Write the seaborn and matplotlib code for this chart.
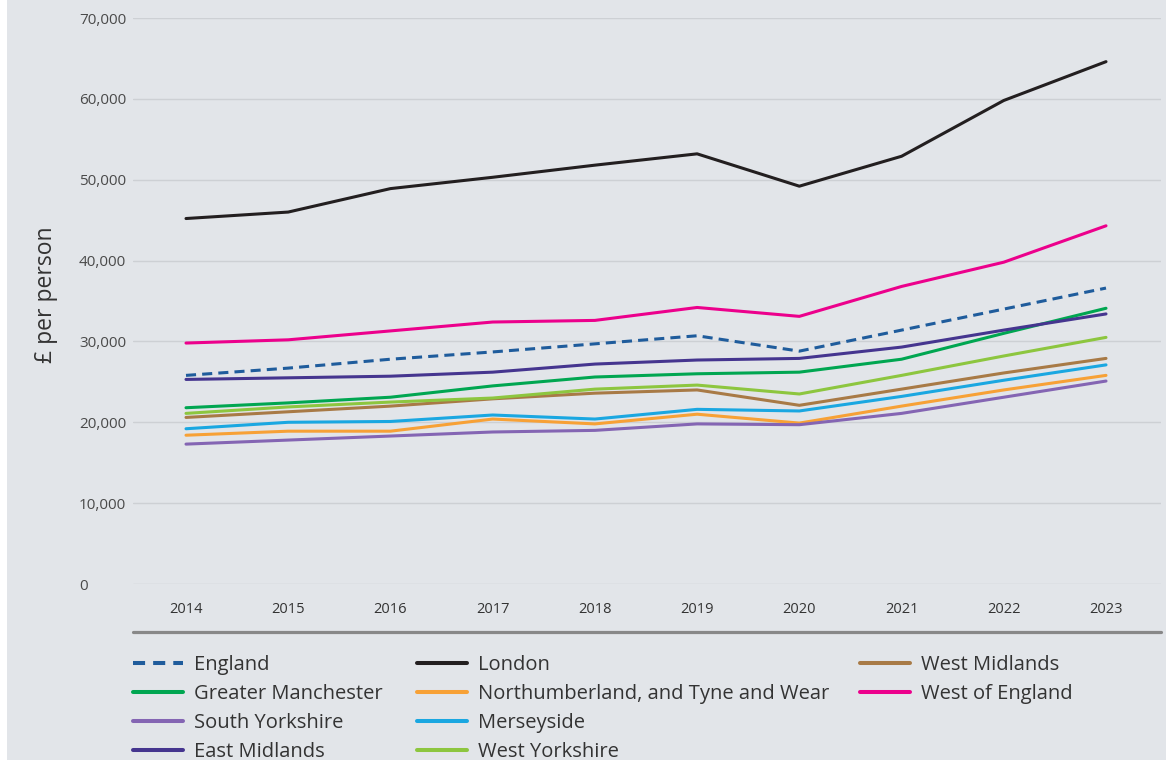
import numpy as np
import pandas as pd
import matplotlib
matplotlib.use("Agg")
import matplotlib.pyplot as plt
from matplotlib.lines import Line2D
from matplotlib.patches import Rectangle
import seaborn as sns

years = [2014, 2015, 2016, 2017, 2018, 2019, 2020, 2021, 2022, 2023]

england = [25800, 26700, 27800, 28700, 29700, 30700, 28800, 31400, 34000, 36600]
london = [45200, 46000, 48900, 50300, 51800, 53200, 49200, 52900, 59800, 64600]
west_midlands = [20600, 21300, 22000, 22900, 23600, 24000, 22100, 24100, 26100, 27900]
greater_manchester = [21800, 22400, 23100, 24500, 25600, 26000, 26200, 27800, 31000, 34100]
northumberland = [18400, 18900, 18900, 20400, 19800, 21000, 19900, 22000, 24000, 25800]
west_of_england = [29800, 30200, 31300, 32400, 32600, 34200, 33100, 36800, 39800, 44300]
south_yorkshire = [17300, 17800, 18300, 18800, 19000, 19800, 19700, 21100, 23100, 25100]
merseyside = [19200, 20000, 20100, 20900, 20400, 21600, 21400, 23200, 25200, 27100]
east_midlands = [25300, 25500, 25700, 26200, 27200, 27700, 27900, 29300, 31400, 33400]
west_yorkshire = [21100, 21900, 22500, 23000, 24100, 24600, 23500, 25800, 28200, 30500]

series_names = ["England", "London", "West Midlands", "Greater Manchester",
                "Northumberland, and Tyne and Wear", "West of England",
                "South Yorkshire", "Merseyside", "East Midlands", "West Yorkshire"]
series_values = [england, london, west_midlands, greater_manchester, northumberland,
                 west_of_england, south_yorkshire, merseyside, east_midlands, west_yorkshire]

colors = {
    "England": "#1f5c9c",
    "London": "#231f20",
    "West Midlands": "#a87a46",
    "Greater Manchester": "#00a651",
    "Northumberland, and Tyne and Wear": "#f7a136",
    "West of England": "#ec008c",
    "South Yorkshire": "#8465b3",
    "Merseyside": "#1aa7e1",
    "East Midlands": "#45358f",
    "West Yorkshire": "#8dc63f",
}

legend_cols = [
    ["England", "Greater Manchester", "South Yorkshire", "East Midlands"],
    ["London", "Northumberland, and Tyne and Wear", "Merseyside", "West Yorkshire"],
    ["West Midlands", "West of England"],
]
y_ticks = [0, 10000, 20000, 30000, 40000, 50000, 60000, 70000]

rows = []
for name, vals in zip(series_names, series_values):
    for yr, v in zip(years, vals):
        rows.append({"Year": yr, "Value": v, "Series": name})
df = pd.DataFrame(rows)

sns.set_theme(style="white")
plt.rcParams["font.family"] = ["Open Sans", "DejaVu Sans"]

BG = "#e2e5e9"
W, H = 1166, 760
PX = 72 / 100  # points per pixel
fig = plt.figure(figsize=(W / 100, H / 100), dpi=100)
fig.patch.set_facecolor(BG)
fig.patches.append(Rectangle((0, 0), 7 / W, 1, transform=fig.transFigure,
                             facecolor="white", edgecolor="none", zorder=-10))

ax = fig.add_axes([133 / W, 1 - 584 / H, (1161 - 133) / W, (584 - 18) / H])
ax.set_facecolor(BG)

dashes = {n: "" for n in series_names}
dashes["England"] = (3.3, 2.0)
sns.lineplot(data=df, x="Year", y="Value", hue="Series", style="Series",
             hue_order=series_names, style_order=series_names,
             palette=colors, dashes=dashes, linewidth=2.2, legend=False, ax=ax)

ax.set_xlim(2013.4815, 2023.538)
ax.set_ylim(0, 70000)
ax.set_yticks(y_ticks)
ax.set_yticklabels([f"{t:,}" for t in y_ticks], ha="left")
ax.set_xticks(years)
ax.set_xticklabels([str(y) for y in years])
ax.grid(axis="y", color="#cdd0d4", linewidth=1.0)
ax.set_axisbelow(True)
for s in ax.spines.values():
    s.set_visible(False)
ax.tick_params(axis="y", length=0, pad=(133 - 79) * PX, labelsize=11, labelcolor="#4a4a4a")
ax.tick_params(axis="x", length=0, pad=13, labelsize=10.5, labelcolor="#333333")
ax.set_xlabel("")
ax.set_ylabel("£ per person", fontsize=16.5, color="#333333")
ax.yaxis.set_label_coords((58 - 133) / 1028, (584 - 295) / 566)

# thick baseline under the x tick labels
fig.add_artist(Line2D([133 / W, 1161 / W], [1 - 632 / H, 1 - 632 / H],
                      transform=fig.transFigure, color="#888888", linewidth=2.3))

col_x = [133, 417, 860]
for cx, names in zip(col_x, legend_cols):
    handles = [Line2D([], [], color=colors[n], linewidth=2.9,
                      linestyle=(0, (3.0, 2.0)) if n == "England" else "-")
               for n in names]
    fig.legend(handles, names, loc="upper left",
               bbox_to_anchor=(cx / W, 1 - 655 / H), frameon=False,
               fontsize=14.5, handlelength=2.49, handletextpad=0.55,
               labelspacing=0.45, borderpad=0, borderaxespad=0,
               labelcolor="#333333")

fig.savefig("out.png", dpi=100, facecolor=fig.get_facecolor())
